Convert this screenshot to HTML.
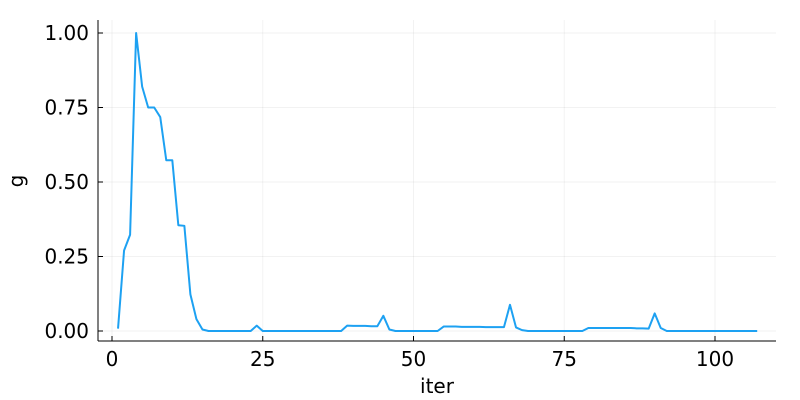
<!DOCTYPE html>
<html><head><meta charset="utf-8"><style>
html,body{margin:0;padding:0;background:#fff;}
svg{display:block;font-family:"DejaVu Sans","Liberation Sans",sans-serif;}
</style></head><body>
<svg id="chart" width="800" height="400">
<g id="grid"></g>
<g id="axes"></g>
<path id="line" fill="none" stroke="#1da1f2" stroke-width="2" stroke-linejoin="round"></path>
<text x="437" y="393" font-size="20" text-anchor="middle">iter</text>
<text x="23" y="181" font-size="20" text-anchor="middle" transform="rotate(-90 23 181)">g</text>
</svg>
<script>
const xTicks = [0, 25, 50, 75, 100];
const yTicks = [0, 0.25, 0.5, 0.75, 1.0];
const yTickLabels = ["0.00", "0.25", "0.50", "0.75", "1.00"];
const gValues = [0.008,0.27,0.323,1.0,0.82,0.75,0.75,0.718,0.573,0.573,0.355,0.353,0.123,0.04,0.005,
0,0,0,0,0,0,0,0,0.018,0,0,0,0,0,0,0,0,0,0,0,0,0,0,
0.018,0.017,0.017,0.017,0.016,0.016,0.051,0.005,0,0,0,0,0,0,0,0,
0.015,0.015,0.015,0.014,0.014,0.014,0.014,0.013,0.013,0.013,0.013,0.088,0.012,0.003,
0,0,0,0,0,0,0,0,0,0,
0.01,0.01,0.01,0.01,0.01,0.01,0.01,0.01,0.009,0.009,0.008,0.059,0.01,
0,0,0,0,0,0,0,0,0,0,0,0,0,0,0,0];
const iters = gValues.map((v,i)=>i+1);
const NS="http://www.w3.org/2000/svg";
const X0=112, XS=(715-112)/100, Y0=331, YS=(331-33);
const xp=v=>X0+v*XS, yp=v=>Y0-v*YS;
const grid=document.getElementById('grid'), axes=document.getElementById('axes');
function mk(tag,attrs,parent){const e=document.createElementNS(NS,tag);for(const k in attrs)e.setAttribute(k,attrs[k]);parent.appendChild(e);return e;}
xTicks.forEach(t=>{
  const g=mk('line',{x1:xp(t),x2:xp(t),y1:20,y2:341,stroke:'#000','stroke-opacity':0.05,'stroke-width':1},grid);
  
  
  const tk=mk('line',{x1:xp(t),x2:xp(t),y1:341,y2:336,stroke:'#000','stroke-width':1},axes);
  
  
  const tx=mk('text',{x:xp(t),y:366,'font-size':20,'text-anchor':'middle'},axes);
  tx.textContent=t;
  
  
});
yTicks.forEach((t,i)=>{
  const g=mk('line',{x1:98,x2:776,y1:yp(t),y2:yp(t),stroke:'#000','stroke-opacity':0.05,'stroke-width':1},grid);
  
  
  const tk=mk('line',{x1:98,x2:103,y1:yp(t),y2:yp(t),stroke:'#000','stroke-width':1},axes);
  
  
  const tx=mk('text',{x:89,y:yp(t)+7,'font-size':20,'text-anchor':'end'},axes);
  tx.textContent=yTickLabels[i];
  
  
});
const xa=mk('line',{x1:98,x2:776,y1:341,y2:341,stroke:'#000','stroke-width':1},axes);


const ya=mk('line',{x1:98,x2:98,y1:20,y2:341,stroke:'#000','stroke-width':1},axes);


document.getElementById('line').setAttribute('d',gValues.map((v,i)=>(i?'L':'M')+xp(iters[i]).toFixed(2)+','+yp(v).toFixed(2)).join(''));
</script>
</body></html>
